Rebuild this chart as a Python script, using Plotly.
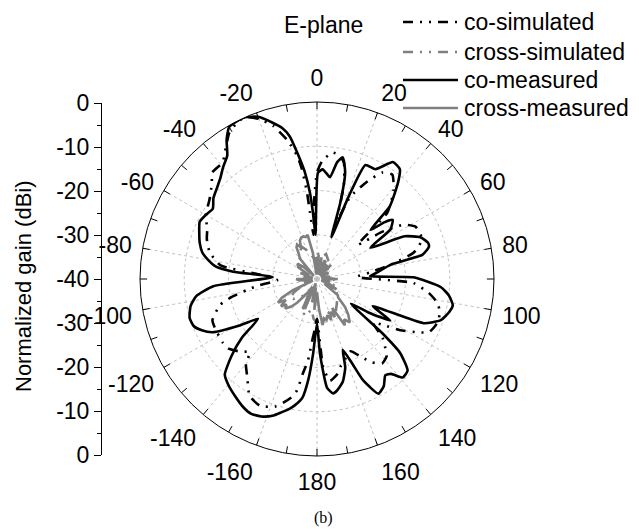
import plotly.graph_objects as go

# ---- radiation pattern data (angle in degrees, normalized gain in dBi) ----
theta_co_meas = [-180, -177, -175, -173, -170, -168, -165, -162, -158, -154, -150, -145, -140, -136,
                 -132, -128, -124, -121, -117, -114, -111, -107, -102, -98, -94, -87.5, -85, -83,
                 -80, -77, -73, -68.5, -64, -60, -56, -52, -48, -44, -40, -36, -33, -30, -27, -24,
                 -20, -16, -13, -10.8, -8.7, -6.5, -4.7, -3.5, -2, 0.5, 3, 5, 7.3, 9.8, 12, 14.8,
                 17, 19, 21, 23, 28, 33, 37, 40, 45, 47.5, 50, 52, 56, 59.7, 64, 68, 72, 74, 77,
                 79, 84, 87, 89, 93.7, 97, 100.9, 104, 108.4, 112.5, 116, 119.5, 123, 126, 129.7,
                 131.7, 135.3, 139, 142, 144.7, 148, 151.8, 155.5, 157.4, 160, 162.3, 166, 169.8,
                 172, 174.7, 177.7, 180]
gain_co_meas = [-30, -23, -17, -13, -11, -10, -8.8, -7.5, -6.5, -6.1, -6.6, -7.7, -8.8, -10,
                -14, -18.5, -23.9, -19.6, -13.5, -11.5, -10.2, -9.9, -10.8, -12.5, -16.5, -30, -21, -17,
                -15, -13.4, -12.3, -11.4, -10.5, -11, -11.6, -10.3, -9.5, -8.5, -7, -5.5, -2.5, -0.3, 0, 0,
                -1, -3.2, -5, -7.2, -11.5, -15.7, -20.4, -25, -30, -16, -15.2, -16, -16.8, -13.2, -11.9, -15.1,
                -22, -30, -20, -12, -11.9, -8.5, -8.9, -11.5, -16.7, -23.6, -20, -18.3, -20, -26, -18, -14.8, -13.6, -13.7, -15.5,
                -23, -26.4, -28, -18.2, -12, -10, -8.75, -9.2, -10.5, -13.9, -26, -21, -26, -30.5, -20.8,
                -14.8, -10.9, -10.5, -12.8, -13.3, -11.5, -10.6, -14.8, -19.3, -23, -19, -16, -14.4,
                -13.9, -15.3, -23, -30]

theta_co_sim = [-180, -177, -176, -173.7, -171.5, -169.8, -167.2, -161.7, -155.7, -150, -145, -140,
                -137.5, -133, -128, -124, -116, -111.5, -105, -102, -99, -96, -92, -88, -85, -82,
                -76, -70, -65.8, -60, -53.6, -48, -44.5, -39, -35, -31, -27, -24, -20, -16, -12,
                -9, -7.8, -6.6, -6, -4.5, -2, 0, 2.4, 6.8, 10, 13, 16, 19, 22, 27.3, 31.5, 35.8,
                41.1, 46.7, 50, 54, 57.9, 62, 67, 70.7, 74.8, 79, 83, 87, 92.4, 97.2, 101.3, 105,
                108.7, 112, 115.5, 117.9, 121.6, 125, 128, 132, 135.4, 138, 142.3, 146.5, 150, 155,
                160, 165, 168, 172.7, 176, 180]
gain_co_sim = [-31, -28, -26.8, -21.5, -18.4, -14.4, -12.3, -9.6, -8.6, -9.5, -12.6, -15,
               -17.5, -16, -14.5, -14.3, -14.4, -14.6, -17.3, -20.2, -23.9, -27, -31, -30, -26, -18,
               -15, -13.5, -12.8, -11, -9.8, -8, -6.25, -6.1, -4, -1.5, -0.3, 0, -1.5, -4, -8,
               -12, -15, -20.3, -24.9, -30, -22, -16, -13.4, -11.2, -11.5, -13, -18, -26, -20, -15.2, -11.8, -10.9,
               -13.7, -18.2, -28, -22, -16.9, -14.8, -14.5, -15.2, -17.4, -23, -28, -31, -18.2, -14.5, -12.2, -11.3,
               -11, -11.3, -12, -14.3, -17.9, -22, -24, -20, -18, -16.5, -15.9, -17.4, -19.5, -22,
               -21, -19.5, -18, -16.8, -20, -31]

theta_cross_meas = [-180, -175, -172, -168, -164, -158, -154, -150, -145, -140, -137, -133, -130,
                    -127, -124, -121, -118, -115, -112, -105, -100, -95, -90, -86, -80, -75, -70,
                    -64, -58, -52, -48, -44, -40, -36, -33, -30, -27, -24, -21, -18, -15, -12, -9,
                    -6, -3, 0, 4, 8, 12, 16, 22, 26, 30, 35, 40, 45, 50, 60, 70, 80, 86, 90, 95, 100,
                    106, 112, 118, 123, 128, 131, 135, 139, 143, 146, 149, 152, 155, 158, 161, 164,
                    167, 170, 173, 176, 180]
gain_cross_meas = [-37, -33, -38, -34.6, -39, -33, -32.6, -38, -36, -33, -31.5, -30.2, -31,
                   -29.8, -31.5, -29.7, -31, -34, -39, -37, -39, -36, -35.3, -39, -37, -39, -36,
                   -38, -35, -34.4, -36, -39, -34, -33, -31.5, -31, -32, -30.5, -30, -29.9, -30.2, -29.8, -34,
                   -39, -35, -38, -34.5, -39, -35, -38, -35.7, -35.5, -39, -36, -38, -35.5, -39, -37, -39, -37, -39, -35.3, -39, -37,
                   -39, -37, -35, -38, -34, -33.7, -31, -29.2, -27.7, -29, -27.8, -32.6, -30.5, -32, -30.2, -31.5,
                   -30.5, -31, -29.5, -33, -37]

theta_cross_sim = [-180, -175, -170, -165, -160, -155, -150, -140, -130, -125, -120, -110, -100,
                   -90, -80, -70, -60, -50, -40, -30, -25, -20, -10, 0, 10, 20, 30, 40, 50, 60, 70,
                   80, 90, 100, 110, 120, 130, 140, 150, 160, 170, 180]
gain_cross_sim = [-30, -31, -33, -32, -31.2, -34, -36, -35, -33, -32.5, -34, -37, -38,
                  -36, -38, -37, -36, -35, -34, -32.5, -32, -33, -35, -34, -35, -34, -35, -36, -37, -38, -37,
                  -38, -36, -37, -36, -35, -34, -33, -31.5, -32, -30.5, -30]

# angular ticks every 10 degrees, labels every 20 (shown as -160..180)
angle_ticks = list(range(0, 360, 10))
angle_labels = [("" if a % 20 else str(a if a <= 180 else a - 360)) for a in angle_ticks]

gain_ticks = [-40, -30, -20, -10, 0, 10, 20, 30, 40]
gain_labels = ["0", "-10", "-20", "-30", "-40", "-30", "-20", "-10", "0"]

R_MIN, R_MAX = -40, 0
W, H = 639, 529
FONT = "Liberation Sans, Arial, sans-serif"
FS = 23
GRAY = "#808080"
DASHDOT = "10px,7px,2px,7px,2px,7px"

fig = go.Figure()

# dashed spokes every 20 degrees
spoke_t, spoke_r = [], []
for a in range(-160, 181, 20):
    spoke_t += [a, a, None]
    spoke_r += [R_MIN, R_MAX, None]
fig.add_trace(go.Scatterpolar(theta=spoke_t, r=spoke_r, mode="lines",
                              line=dict(color="#c0c0c0", width=1, dash="3px,3px"),
                              hoverinfo="skip", showlegend=False))

series = [
    ("cross-simulated", theta_cross_sim, gain_cross_sim, GRAY, DASHDOT, "linear"),
    ("cross-measured", theta_cross_meas, gain_cross_meas, GRAY, "solid", "linear"),
    ("co-simulated", theta_co_sim, gain_co_sim, "black", DASHDOT, "spline"),
    ("co-measured", theta_co_meas, gain_co_meas, "black", "solid", "spline"),
]
for name, th, g, col, dash, shape in series:
    fig.add_trace(go.Scatterpolar(theta=th, r=g, mode="lines", name=name,
                                  line=dict(color=col, width=2.6, dash=dash, shape=shape, smoothing=0.5),
                                  showlegend=False))

# inward tick marks on the outer circle
tick_t, tick_r = [], []
for a in angle_ticks:
    tick_t += [a, a, None]
    tick_r += [R_MAX - 1.6, R_MAX, None]
fig.add_trace(go.Scatterpolar(theta=tick_t, r=tick_r, mode="lines",
                              line=dict(color="black", width=1),
                              hoverinfo="skip", showlegend=False))

# invisible anchor for the linear gain scale on the left
fig.add_trace(go.Scatter(x=[0], y=[0], mode="markers", marker=dict(opacity=0),
                         hoverinfo="skip", showlegend=False))

cx0, cx1 = 140 / W, 494 / W
cy0, cy1 = 1 - 456 / H, 1 - 102 / H

fig.update_layout(
    width=W, height=H,
    margin=dict(l=0, r=0, t=0, b=0, autoexpand=False),
    showlegend=False,
    paper_bgcolor="white", plot_bgcolor="white",
    font=dict(family=FONT, size=FS, color="black"),
    polar=dict(
        domain=dict(x=[cx0, cx1], y=[cy0, cy1]),
        bgcolor="white",
        radialaxis=dict(range=[R_MIN, R_MAX], tickvals=[-30, -20, -10], showticklabels=False,
                        ticks="", showline=False, showgrid=True, gridcolor="#c0c0c0",
                        griddash="3px,3px", gridwidth=1),
        angularaxis=dict(direction="clockwise", rotation=90, tickmode="array",
                         tickvals=angle_ticks, ticktext=angle_labels, ticks="outside",
                         ticklen=6, tickcolor="rgba(0,0,0,0)", showgrid=False, showline=True,
                         linecolor="black", linewidth=1,
                         tickfont=dict(family=FONT, size=FS, color="black")),
    ),
    xaxis=dict(domain=[102 / W, 110 / W], visible=False, range=[-1, 1], automargin=False),
    yaxis=dict(domain=[1 - 455 / H, 1 - 103 / H], range=[-40, 40], tickmode="array",
               tickvals=gain_ticks, ticktext=gain_labels, ticks="outside", ticklen=7,
               tickcolor="black", showline=True, linecolor="black", linewidth=1,
               showgrid=False, zeroline=False, automargin=False,
               minor=dict(ticks="outside", ticklen=4, tickmode="linear", tick0=0, dtick=5,
                          tickcolor="black", showgrid=False),
               tickfont=dict(family=FONT, size=FS, color="black")),
)

# axis title for the linear gain scale
fig.add_annotation(text="Normalized gain (dBi)", x=23 / W, y=1 - 286 / H, xref="paper", yref="paper",
                   textangle=-90, showarrow=False, font=dict(family=FONT, size=22),
                   xanchor="center", yanchor="middle")

# title of the cut and legend entries
fig.add_annotation(text="E-plane", x=323 / W, y=1 - 25 / H, xref="paper", yref="paper",
                   showarrow=False, font=dict(family=FONT, size=FS), xanchor="center", yanchor="middle")

legend_rows = [("co-simulated", "black", DASHDOT, 22),
               ("cross-simulated", GRAY, DASHDOT, 52),
               ("co-measured", "black", "solid", 80),
               ("cross-measured", GRAY, "solid", 108)]
for label, col, dash, ypx in legend_rows:
    yp = 1 - ypx / H
    fig.add_shape(type="line", xref="paper", yref="paper", x0=403 / W, x1=458 / W, y0=yp, y1=yp,
                  line=dict(color=col, width=2.6, dash=dash))
    fig.add_annotation(text=label, x=462 / W, y=yp, xref="paper", yref="paper", showarrow=False,
                       xanchor="left", yanchor="middle", font=dict(family=FONT, size=FS))

fig.add_annotation(text="(b)", x=323 / W, y=1 - 518 / H, xref="paper", yref="paper",
                   showarrow=False, font=dict(family="Liberation Serif, Times New Roman, serif", size=16),
                   xanchor="center", yanchor="middle")

fig.write_html("out.html")
